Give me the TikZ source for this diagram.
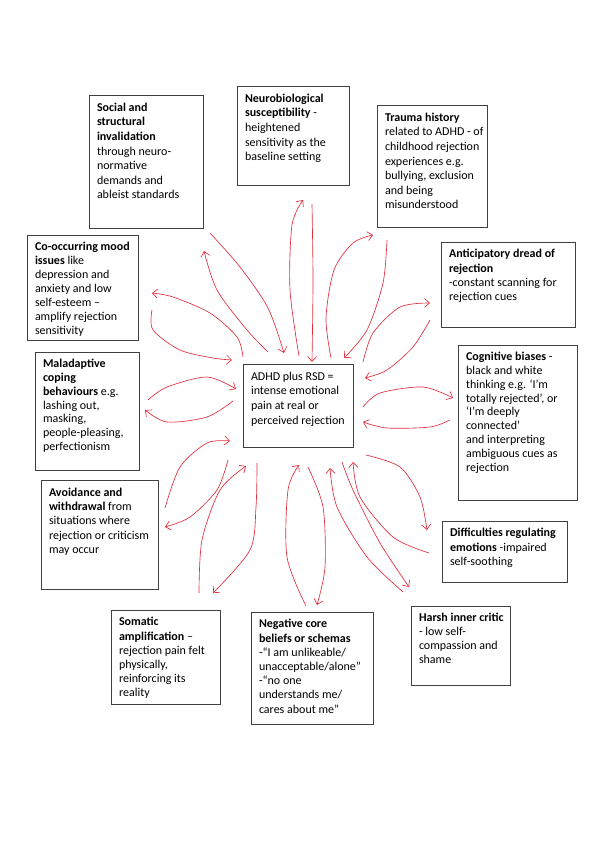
\documentclass[tikz,border=0pt]{standalone}
\usepackage{fontspec}
\setmainfont{Carlito}
\usetikzlibrary{arrows.meta}
\definecolor{pen}{RGB}{226,44,60}
\newcommand\boxnode[7][14.6]{%
  \node[bx, font=\fontsize{12}{#1}\selectfont] (#2) at ({(#3+#5)/2},{(#4+#6)/2})
  {\parbox[c][\dimexpr #6pt-#4pt-12pt\relax][t]{\dimexpr #5pt-#3pt-16pt\relax}{%
   \begin{tabular}[t]{@{}l@{}}#7\end{tabular}}};}
\tikzset{
  bx/.style={draw=black!75, line width=0.8pt, inner xsep=8pt, inner ysep=6pt},
  rarr/.style={draw=pen, line width=0.65pt, -{Straight Barb[length=5pt,width=9pt]}}
}
\begin{document}
\begin{tikzpicture}[x=1pt,y=-1pt]
\useasboundingbox[fill=white] (0,0) rectangle (595,841);
\boxnode{soc}{89}{95}{203}{228}{\textbf{Social and}\\ \textbf{structural}\\ \textbf{invalidation}\\ through neuro-\\ normative\\ demands and\\ ableist standards}
\boxnode{neu}{237}{86}{349}{185}{\textbf{Neurobiological}\\ \textbf{susceptibility} -\\ heightened\\ sensitivity as the\\ baseline setting}
\boxnode{tra}{377}{105}{487}{227}{\textbf{Trauma history}\\ related to ADHD - of\\ childhood rejection\\ experiences e.g.\\ bullying, exclusion\\ and being\\ misunderstood}
\boxnode[13.9]{coo}{27}{235}{138}{340}{\textbf{Co-occurring mood}\\ \textbf{issues} like\\ depression and\\ anxiety and low\\ self-esteem –\\ amplify rejection\\ sensitivity}
\boxnode[14.2]{ant}{441}{242}{575}{327}{\textbf{Anticipatory dread of}\\ \textbf{rejection}\\ -constant scanning for\\ rejection cues}
\boxnode[13.8]{mal}{35}{352}{139}{470}{\textbf{Maladaptive}\\ \textbf{coping}\\ \textbf{behaviours} e.g.\\ lashing out,\\ masking,\\ people-pleasing,\\ perfectionism}
\boxnode[13.8]{cog}{458}{345}{577}{500}{\textbf{Cognitive biases} -\\ black and white\\ thinking e.g. ‘I’m\\ totally rejected’, or\\ ‘I’m deeply\\ connected’\\ and interpreting\\ ambiguous cues as\\ rejection}
\boxnode[14.4]{avo}{41}{480}{158}{589}{\textbf{Avoidance and}\\ \textbf{withdrawal} from\\ situations where\\ rejection or criticism\\ may occur}
\boxnode[14.2]{dif}{442}{521}{567}{582}{\textbf{Difficulties regulating}\\ \textbf{emotions} -impaired\\ self-soothing}
\boxnode[14.2]{som}{111}{610}{220}{704}{\textbf{Somatic}\\ \textbf{amplification} –\\ rejection pain felt\\ physically,\\ reinforcing its\\ reality}
\boxnode[14.2]{neg}{251}{612}{373}{724}{\textbf{Negative core}\\ \textbf{beliefs or schemas}\\ -“I am unlikeable/\\ unacceptable/alone”\\ -“no one\\ understands me/\\ cares about me”}
\boxnode[14]{har}{411}{606}{510}{685}{\textbf{Harsh inner critic}\\ - low self-\\ compassion and\\ shame}
\boxnode{ctr}{243}{364}{353}{447}{ADHD plus RSD =\\ intense emotional\\ pain at real or\\ perceived rejection}
% Social
\draw[rarr] plot[smooth] coordinates {(210,233) (240,267) (268,308) (284,353)};
\draw[rarr] plot[smooth] coordinates {(268,352) (247,330) (217,290) (204,251)};
% Neurobiological
\draw[rarr] plot[smooth] coordinates {(299,356) (290,290) (292,225) (303,200)};
\draw[rarr] plot[smooth] coordinates {(312,204) (313,280) (312,362)};
% Trauma
\draw[rarr] plot[smooth] coordinates {(331,358) (326,318) (334,270) (353,243) (373,235)};
\draw[rarr] plot[smooth] coordinates {(387,240) (383,283) (367,330) (344,358)};
% Anticipatory
\draw[rarr] plot[smooth] coordinates {(363,362) (373,333) (400,307) (430,303)};
\draw[rarr] plot[smooth] coordinates {(430,320) (413,347) (387,370) (365,378)};
% Cognitive
\draw[rarr] plot[smooth] coordinates {(363,407) (380,393) (423,387) (453,398)};
\draw[rarr] plot[smooth] coordinates {(450,420) (430,427) (387,428) (363,422)};
% Difficulties
\draw[rarr] plot[smooth] coordinates {(366,455) (400,467) (420,497) (427,530)};
\draw[rarr] plot[smooth] coordinates {(429,553) (393,537) (360,497) (353,462)};
% Harsh
\draw[rarr] plot[smooth] coordinates {(342,462) (353,490) (380,543) (409,587)};
\draw[rarr] plot[smooth] coordinates {(403,592) (367,557) (337,507) (330,468)};
% Negative
\draw[rarr] plot[smooth] coordinates {(306,606) (287,557) (288,490) (299,465)};
\draw[rarr] plot[smooth] coordinates {(308,467) (323,507) (325,567) (317,605)};
% Somatic
\draw[rarr] plot[smooth] coordinates {(257,463) (256,507) (250,550) (213,593)};
\draw[rarr] plot[smooth] coordinates {(199,593) (202,540) (220,490) (246,466)};
% Avoidance
\draw[rarr] plot[smooth] coordinates {(165,508) (180,467) (207,443) (230,441)};
\draw[rarr] plot[smooth] coordinates {(228,460) (217,490) (190,517) (165,527)};
% Maladaptive
\draw[rarr] plot[smooth] coordinates {(148,400) (167,387) (207,377) (236,389)};
\draw[rarr] plot[smooth] coordinates {(233,401) (207,417) (167,422) (145,410)};
% Co-occurring
\draw[rarr] plot[smooth] coordinates {(243,357) (237,337) (210,313) (173,297) (152,293)};
\draw[rarr] plot[smooth] coordinates {(152,310) (153,330) (180,350) (213,358) (232,360)};
\end{tikzpicture}
\end{document}
